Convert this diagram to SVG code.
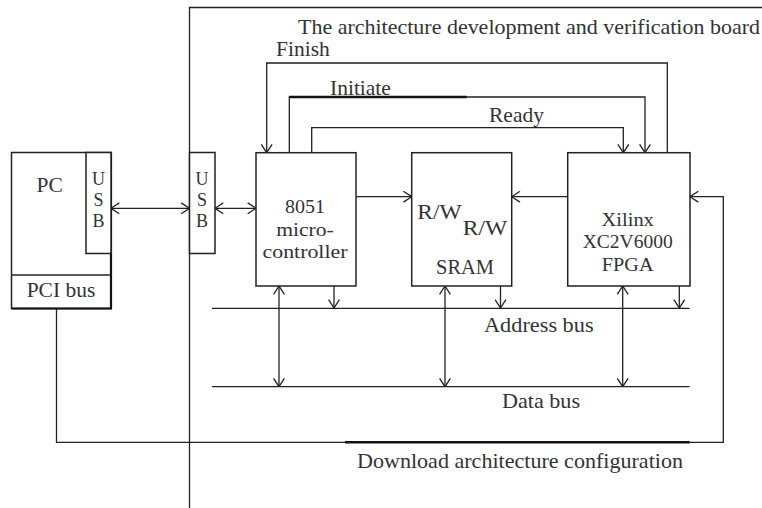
<svg xmlns="http://www.w3.org/2000/svg" width="762" height="508" viewBox="0 0 762 508">
  <style>
    .ln { fill: none; stroke: #222; stroke-width: 1.3; }
    .box { fill: #fff; stroke: #222; stroke-width: 1.5; }
    .t { font-family: "Liberation Serif", "Times New Roman", serif; font-size: 21.5px; fill: #333; }
    .m { font-family: "Liberation Serif", "Times New Roman", serif; font-size: 19.5px; fill: #333; text-anchor: middle; }
    .u { font-family: "Liberation Serif", "Times New Roman", serif; font-size: 18px; fill: #333; text-anchor: middle; }
    .c { text-anchor: middle; }
    .thick { fill: none; stroke: #111; stroke-width: 2.4; }
  </style>
  <defs>
    <marker id="ah" viewBox="0 0 10 12" markerWidth="10" markerHeight="12" refX="9.3" refY="6" markerUnits="userSpaceOnUse" orient="auto-start-reverse">
      <path d="M1,0.6 L9.3,6 L1,11.4" fill="none" stroke="#222" stroke-width="1.3"/>
    </marker>
  </defs>

  <rect width="762" height="508" fill="#fff"/>

  <g id="board">
    <path class="ln" d="M189.5,508 V7.5 H762"/>
    <text class="t" x="298" y="34" textLength="462" lengthAdjust="spacingAndGlyphs">The architecture development and verification board</text>
  </g>

  <g id="connectors">
    <path class="ln" d="M667.3,152.7 V63 H266.7 V152.7" marker-end="url(#ah)"/>
    <path class="ln" d="M289.3,152.7 V97 H645 V152.7" marker-end="url(#ah)"/>
    <path class="thick" d="M289.3,97 H466.7"/>
    <path class="ln" d="M311.7,152.7 V127.7 H623.3 V152.7" marker-end="url(#ah)"/>
    <path class="ln" d="M111,208.3 H189.5" marker-start="url(#ah)" marker-end="url(#ah)"/>
    <path class="ln" d="M215,208.3 H256" marker-start="url(#ah)" marker-end="url(#ah)"/>
    <path class="ln" d="M356,196.7 H411.7" marker-end="url(#ah)"/>
    <path class="ln" d="M567.7,196.7 H511.7" marker-end="url(#ah)"/>
    <path class="ln" d="M212,308.3 H689.6"/>
    <path class="ln" d="M212,386.7 H689.6"/>
    <path class="ln" d="M279,286 V386.7" marker-start="url(#ah)" marker-end="url(#ah)"/>
    <path class="ln" d="M445,286 V386.7" marker-start="url(#ah)" marker-end="url(#ah)"/>
    <path class="ln" d="M622.7,286 V386.7" marker-start="url(#ah)" marker-end="url(#ah)"/>
    <path class="ln" d="M334,286 V308" marker-end="url(#ah)"/>
    <path class="ln" d="M500.5,286 V308" marker-end="url(#ah)"/>
    <path class="ln" d="M679.3,286 V308" marker-end="url(#ah)"/>
    <path class="ln" d="M56.5,308.5 V442.3 H723.3 V196.7 H690" marker-end="url(#ah)"/>
    <path class="thick" d="M345,442.3 H689.6"/>
  </g>

  <g id="pc">
    <rect class="box" x="11.5" y="152.5" width="99.5" height="156"/>
    <path fill="none" stroke="#111" stroke-width="2.2" d="M111,152.5 V308.5 H11.5"/>
    <path class="ln" d="M11.5,275 H111"/>
    <text class="t" x="36.5" y="191.5">PC</text>
    <text class="t c" x="61" y="297">PCI bus</text>
  </g>

  <g id="pc-usb">
    <rect class="box" x="86" y="152.5" width="25" height="101"/>
    <text class="u" x="98.5" y="185">U</text>
    <text class="u" x="98.5" y="206">S</text>
    <text class="u" x="98.5" y="227">B</text>
  </g>

  <g id="board-usb">
    <rect class="box" x="189.5" y="152.5" width="25.5" height="101"/>
    <text class="u" x="202" y="185">U</text>
    <text class="u" x="202" y="206">S</text>
    <text class="u" x="202" y="227">B</text>
  </g>

  <g id="mcu">
    <rect class="box" x="256" y="152.7" width="100" height="133.3"/>
    <text class="m" x="305" y="213" textLength="40" lengthAdjust="spacingAndGlyphs">8051</text>
    <text class="m" x="305" y="235.5" textLength="57.7" lengthAdjust="spacingAndGlyphs">micro-</text>
    <text class="m" x="305" y="258" textLength="85" lengthAdjust="spacingAndGlyphs">controller</text>
  </g>

  <g id="sram">
    <rect class="box" x="411.7" y="152.7" width="100" height="133.3"/>
    <text class="t" x="417.3" y="219.3" textLength="44.4" lengthAdjust="spacingAndGlyphs">R/W</text>
    <text class="t" x="462.7" y="235" textLength="44.6" lengthAdjust="spacingAndGlyphs">R/W</text>
    <text class="t" x="436" y="274" textLength="58" lengthAdjust="spacingAndGlyphs">SRAM</text>
  </g>

  <g id="fpga">
    <rect class="box" x="567.7" y="152.7" width="122.3" height="133.3"/>
    <text class="m" x="627.7" y="225.5" textLength="52.3" lengthAdjust="spacingAndGlyphs">Xilinx</text>
    <text class="m" x="627.7" y="248" textLength="90" lengthAdjust="spacingAndGlyphs">XC2V6000</text>
    <text class="m" x="627.7" y="270.7" textLength="51.7" lengthAdjust="spacingAndGlyphs">FPGA</text>
  </g>

  <g id="labels">
    <text class="t" x="276" y="55.5">Finish</text>
    <text class="t" x="330" y="95">Initiate</text>
    <text class="t" x="489" y="122">Ready</text>
    <text class="t" x="484" y="331.7" textLength="109.6" lengthAdjust="spacingAndGlyphs">Address bus</text>
    <text class="t" x="502" y="408.3" textLength="78" lengthAdjust="spacingAndGlyphs">Data bus</text>
    <text class="t" x="357" y="468.3" textLength="326" lengthAdjust="spacingAndGlyphs">Download architecture configuration</text>
  </g>
</svg>
